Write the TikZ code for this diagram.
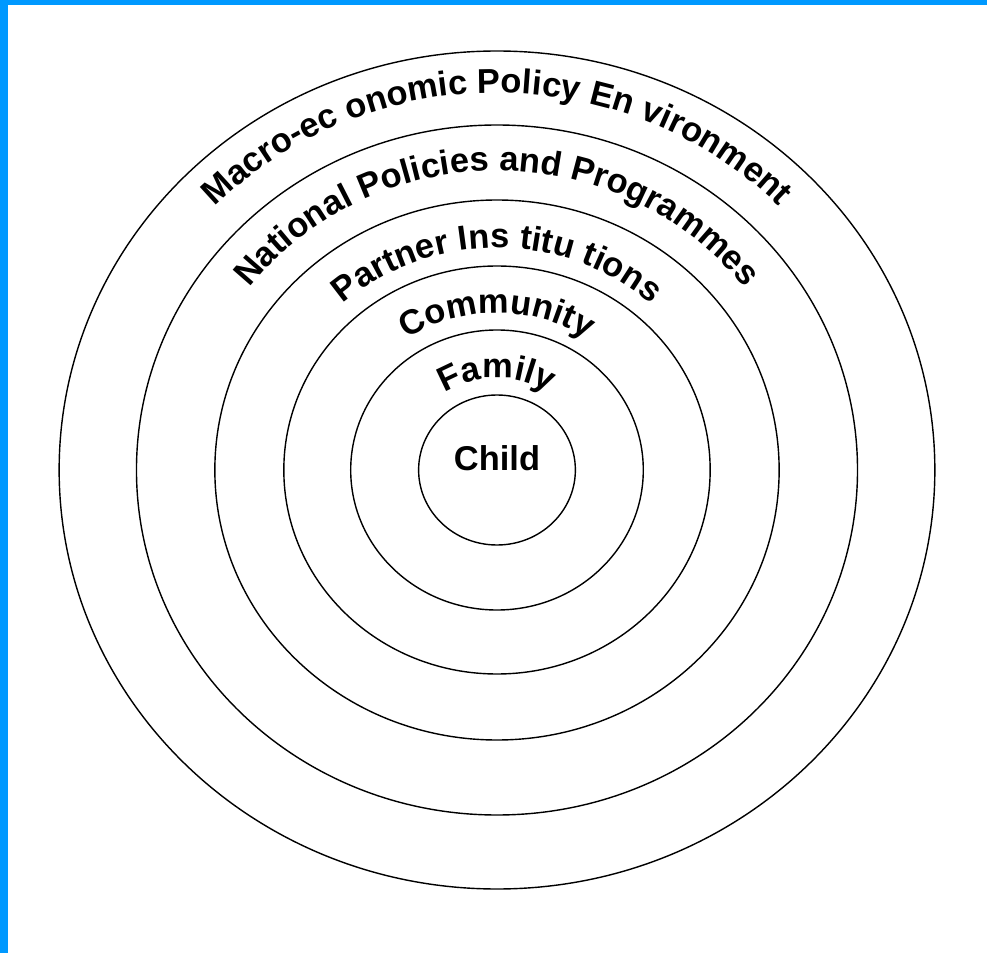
\documentclass[tikz,border=0pt]{standalone}
\usepackage{fontspec}
\setmainfont{Liberation Sans}
\newcommand*{\lb}{\bfseries\fontsize{19.6}{22}\selectfont}
\usetikzlibrary{decorations.text}
\definecolor{frameblue}{RGB}{0,153,255}
\tikzset{ring/.style={line width=.8pt}}

\begin{document}
\begin{tikzpicture}[scale=.02]
\useasboundingbox (-497,-483) rectangle (490,470);
% Draw blue frame on top and left
\fill[frameblue] (-497,465) rectangle (490,470);
\fill[frameblue] (-497,-483) rectangle (-489,470);
\coordinate (O) at (0,0);

% Draw the rings
\foreach \r in {75,140,204,270,345,419}
  \draw[ring] (O) ellipse [x radius=1.045*\r, y radius=\r];

% Draw the labels along the rings
\path[decorate,decoration={text along path,text align=center,
  text={|\lb|Macro-ec onomic Policy En vironment}}]
  (O) ++(170:394 and 377) arc [start angle=170, end angle=10, x radius=394, y radius=377];
\path[decorate,decoration={text along path,text align=center,
  text={|\lb|National Policies and Programmes}}]
  (O) ++(170:312 and 299) arc [start angle=170, end angle=10, x radius=312, y radius=299];
\path[decorate,decoration={text along path,text align=center,
  text={|\lb|Partner Ins titu tions}}]
  (O) ++(170:232 and 222) arc [start angle=170, end angle=10, x radius=232, y radius=222];
\path[decorate,decoration={text along path,text align=center,
  text={|\lb|Community}}]
  (O) ++(170:164 and 157) arc [start angle=170, end angle=10, x radius=164, y radius=157];
\path[decorate,decoration={text along path,text align=center,
  text={|\lb|Family}}]
  (O) ++(170:96 and 92) arc [start angle=170, end angle=10, x radius=96, y radius=92];

% Centre label
\node[font=\lb,anchor=base] (child) at (0,-1) {Child};
\end{tikzpicture}
\end{document}
